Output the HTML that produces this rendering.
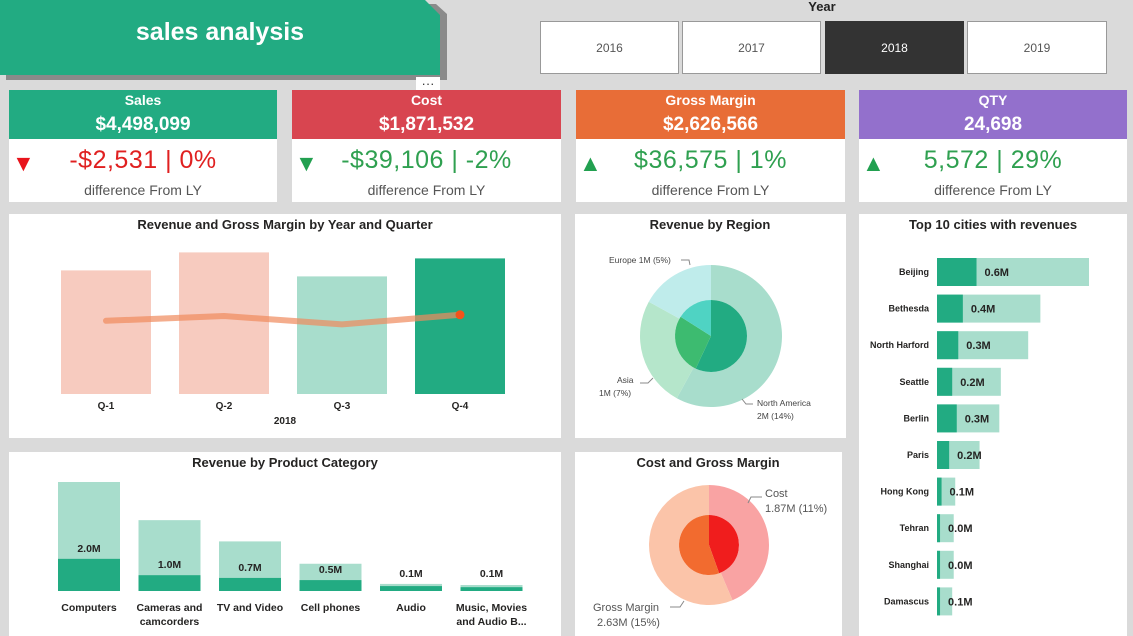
<!DOCTYPE html>
<html><head><meta charset="utf-8">
<style>
html,body{margin:0;padding:0;}
body{width:1133px;height:636px;background:#dadada;overflow:hidden;font-family:"Liberation Sans",sans-serif;position:relative;}
.abs{position:absolute;}
.panel{position:absolute;background:#fff;}
.kpi-head{position:absolute;left:0;right:0;top:0;height:49px;color:#fff;text-align:center;font-weight:bold;}
.kpi-head .t{font-size:14px;margin-top:2px;}
.kpi-head .v{font-size:19px;margin-top:6px;}
.kpi-diff{position:absolute;left:0;right:0;top:56px;text-align:center;font-size:25px;letter-spacing:0.5px;}
.kpi-sub{position:absolute;left:0;right:0;top:92px;text-align:center;font-size:14px;color:#555;}
.tri{position:absolute;left:3px;top:60px;font-size:23px;}
.btn{position:absolute;top:21px;height:53px;background:#fff;border:1px solid #999;box-sizing:border-box;text-align:center;line-height:52px;font-size:12px;color:#555;}
</style></head>
<body>
<div class="abs" style="left:6px;top:4px;width:441px;height:76px;background:#8a8a8a;clip-path:polygon(0 0,430px 0,441px 10px,441px 76px,0 76px);"></div>
<div class="abs" style="left:0;top:0;width:440px;height:75px;background:#22ab82;clip-path:polygon(0 0,425px 0,440px 15px,440px 75px,0 75px);">
 <div style="position:absolute;left:0;width:440px;top:18px;text-align:center;color:#fff;font-weight:bold;font-size:25px;">sales analysis</div>
</div>
<div class="abs" style="left:416px;top:77px;width:24px;height:20px;background:#fff;text-align:center;font-size:13px;line-height:14px;color:#333;">···</div>

<div class="abs" style="left:780px;top:-1px;width:84px;text-align:center;font-size:13px;font-weight:bold;color:#222;">Year</div>
<div class="btn" style="left:540px;width:139px;">2016</div>
<div class="btn" style="left:682px;width:139px;">2017</div>
<div class="btn" style="left:825px;width:139px;background:#333;color:#fff;border-color:#333;">2018</div>
<div class="btn" style="left:967px;width:140px;">2019</div>

<div class="panel" style="left:9px;top:90px;width:268px;height:112px;">
 <div class="kpi-head" style="background:#22ab82;"><div class="t">Sales</div><div class="v">$4,498,099</div></div>
 <div class="tri" style="color:#e8141c;">▼</div>
 <div class="kpi-diff" style="color:#e02020;">-$2,531 | 0%</div>
 <div class="kpi-sub">difference From LY</div>
</div>
<div class="panel" style="left:292px;top:90px;width:269px;height:112px;">
 <div class="kpi-head" style="background:#d84550;"><div class="t">Cost</div><div class="v">$1,871,532</div></div>
 <div class="tri" style="color:#22a050;">▼</div>
 <div class="kpi-diff" style="color:#2fa050;">-$39,106 | -2%</div>
 <div class="kpi-sub">difference From LY</div>
</div>
<div class="panel" style="left:576px;top:90px;width:269px;height:112px;">
 <div class="kpi-head" style="background:#e86d37;"><div class="t">Gross Margin</div><div class="v">$2,626,566</div></div>
 <div class="tri" style="color:#22a050;">▲</div>
 <div class="kpi-diff" style="color:#2fa050;">$36,575 | 1%</div>
 <div class="kpi-sub">difference From LY</div>
</div>
<div class="panel" style="left:859px;top:90px;width:268px;height:112px;">
 <div class="kpi-head" style="background:#9370cc;"><div class="t">QTY</div><div class="v">24,698</div></div>
 <div class="tri" style="color:#22a050;">▲</div>
 <div class="kpi-diff" style="color:#2fa050;">5,572 | 29%</div>
 <div class="kpi-sub">difference From LY</div>
</div>

<div class="panel" style="left:9px;top:214px;width:552px;height:224px;"></div>
<div class="panel" style="left:575px;top:214px;width:271px;height:224px;"></div>
<div class="panel" style="left:859px;top:214px;width:268px;height:422px;"></div>
<div class="panel" style="left:9px;top:452px;width:552px;height:184px;"></div>
<div class="panel" style="left:575px;top:452px;width:267px;height:184px;"></div>

<svg id="chart" class="abs" style="left:0;top:0;" width="1133" height="636" font-family="Liberation Sans, sans-serif">
 <text x="285" y="229" text-anchor="middle" font-size="13" font-weight="bold" fill="#252423">Revenue and Gross Margin by Year and Quarter</text>
 <text x="710" y="229" text-anchor="middle" font-size="13" font-weight="bold" fill="#252423">Revenue by Region</text>
 <text x="993" y="229" text-anchor="middle" font-size="13" font-weight="bold" fill="#252423">Top 10 cities with revenues</text>
 <text x="285" y="467" text-anchor="middle" font-size="13" font-weight="bold" fill="#252423">Revenue by Product Category</text>
 <text x="708" y="467" text-anchor="middle" font-size="13" font-weight="bold" fill="#252423">Cost and Gross Margin</text>
 <text x="285" y="424" text-anchor="middle" font-size="10" font-weight="bold" fill="#252423">2018</text>
 <g id="gq"></g><g id="gr"></g><g id="gc"></g><g id="gp"></g><g id="gg"></g>
 <g font-size="8.5" fill="#444">
  <text x="609" y="263">Europe 1M (5%)</text>
  <polyline points="681,260 689,260 690,265" fill="none" stroke="#888"/>
  <text x="617" y="383">Asia</text>
  <text x="599" y="396">1M (7%)</text>
  <polyline points="640,383 648,383 653,378" fill="none" stroke="#888"/>
  <text x="757" y="406">North America</text>
  <text x="757" y="419">2M (14%)</text>
  <polyline points="742,399 746,404 753,404" fill="none" stroke="#888"/>
 </g>
 <g font-size="11" fill="#555">
  <text x="765" y="497">Cost</text>
  <text x="765" y="512">1.87M (11%)</text>
  <polyline points="748,503 751,497 762,497" fill="none" stroke="#888"/>
  <text x="593" y="611">Gross Margin</text>
  <text x="597" y="626">2.63M (15%)</text>
  <polyline points="670,607 680,607 684,601" fill="none" stroke="#888"/>
 </g>
</svg>
<script>
// Revenue & GM by quarter
const quarters=["Q-1","Q-2","Q-3","Q-4"];
const revenueQ=[1.03,1.18,0.98,1.13];
const marginQ=[0.61,0.65,0.58,0.66];
const quarterColors=["#f7cbbf","#f7cbbf","#a8ddcc","#22ab82"];
// Region donut
const regions=["North America","Asia","Europe"];
const regionOuter=[58,25,17];
const regionInner=[57,27,16];
// Cities
const cities=["Beijing","Bethesda","North Harford","Seattle","Berlin","Paris","Hong Kong","Tehran","Shanghai","Damascus"];
const cityTotal=[1.00,0.68,0.60,0.42,0.41,0.28,0.12,0.11,0.11,0.10];
const cityPart=[0.26,0.17,0.14,0.10,0.13,0.08,0.03,0.02,0.02,0.02];
const cityLabels=["0.6M","0.4M","0.3M","0.2M","0.3M","0.2M","0.1M","0.0M","0.0M","0.1M"];
// Products
const products=[["Computers"],["Cameras and","camcorders"],["TV and Video"],["Cell phones"],["Audio"],["Music, Movies","and Audio B..."]];
const productTotal=[2.0,1.3,0.91,0.5,0.13,0.11];
const productPart=[0.59,0.29,0.24,0.2,0.09,0.07];
const productLabels=["2.0M","1.0M","0.7M","0.5M","0.1M","0.1M"];
// Cost & GM donut
const cgNames=["Cost","Gross Margin"];
const cgOuter=[43.6,56.4];
const cgInner=[44.5,55.5];

const NS="http://www.w3.org/2000/svg";
function mk(parent,tag,attrs){const e=document.createElementNS(NS,tag);for(const k in attrs)e.setAttribute(k,attrs[k]);parent.appendChild(e);return e;}

(function(){
 const g=document.getElementById('gq');
 const base=394, pxPerM=120, x0=61, step=118, bw=90;
 const y=v=>base-v*pxPerM, xc=i=>x0+i*step+bw/2;
 quarters.forEach((q,i)=>{
  const r=mk(g,'rect',{x:x0+i*step,y:y(revenueQ[i]),width:bw,height:revenueQ[i]*pxPerM,fill:quarterColors[i]});
  
  
  const t=mk(g,'text',{x:xc(i),y:409,'text-anchor':'middle','font-size':10,'font-weight':'bold',fill:'#252423'});
  t.textContent=q;
  
  
 });
 const pts=marginQ.map((v,i)=>xc(i)+','+y(v)).join(' ');
 const l=mk(g,'polyline',{points:pts,fill:'none',stroke:'#f08a5d','stroke-width':6,'stroke-opacity':0.7,'stroke-linecap':'round','stroke-linejoin':'round'});
 
 
 const d=mk(g,'circle',{cx:xc(3),cy:y(marginQ[3]),r:4.5,fill:'#f2541b'});
 
 
})();

function arc(cx,cy,r0,r1,a0,a1){
 const p=(r,a)=>[cx+r*Math.sin(a),cy-r*Math.cos(a)];
 const large=(a1-a0)>Math.PI?1:0;
 const [x1,y1]=p(r1,a0),[x2,y2]=p(r1,a1);
 if(r0<=0){return `M${cx},${cy}L${x1},${y1}A${r1},${r1} 0 ${large} 1 ${x2},${y2}Z`;}
 const [x3,y3]=p(r0,a1),[x4,y4]=p(r0,a0);
 return `M${x1},${y1}A${r1},${r1} 0 ${large} 1 ${x2},${y2}L${x3},${y3}A${r0},${r0} 0 ${large} 0 ${x4},${y4}Z`;
}
function donut(g,cx,cy,r0,r1,vals,cols,names,prefix){
 const tot=vals.reduce((a,b)=>a+b,0);let a=0;
 vals.forEach((v,i)=>{const a1=a+v/tot*2*Math.PI;
  const p=mk(g,'path',{d:arc(cx,cy,r0,r1,a,a1),fill:cols[i]});
  
  
  a=a1;});
}
donut(document.getElementById('gr'),711,336,36,71,regionOuter,["#a8ddcc","#b5e6cb","#bfeceb"],regions,'outer-slice');
donut(document.getElementById('gr'),711,336,0,36,regionInner,["#22ab82","#3dbb70","#4fd3c3"],regions,'inner-slice');
donut(document.getElementById('gg'),709,545,30,60,cgOuter,["#f9a3a3","#fbc4a9"],cgNames,'outer-slice');
donut(document.getElementById('gg'),709,545,0,30,cgInner,["#f01d1d","#f26b2f"],cgNames,'inner-slice');

(function(){
 const g=document.getElementById('gc');
 const x0=937,pxPer=152,y0=258,step=36.6,bh=28;
 cities.forEach((c,i)=>{
  const y=y0+i*step;
  const t=mk(g,'text',{x:929,y:y+bh/2+3,'text-anchor':'end','font-size':9,'font-weight':'bold',fill:'#252423'});
  t.textContent=c;
  
  
  const b=mk(g,'rect',{x:x0,y:y,width:cityTotal[i]*pxPer,height:bh,fill:'#a8ddcc'});
  
  
  const p=mk(g,'rect',{x:x0,y:y,width:cityPart[i]*pxPer,height:bh,fill:'#22ab82'});
  
  
  const v=mk(g,'text',{x:x0+cityPart[i]*pxPer+8,y:y+bh/2+4,'font-size':11,'font-weight':'bold',fill:'#252423'});
  v.textContent=cityLabels[i];
  
  
 });
})();

(function(){
 const g=document.getElementById('gp');
 const base=591,pxPer=54.5,x0=58,step=80.5,bw=62;
 products.forEach((lines,i)=>{
  const x=x0+i*step;
  const b=mk(g,'rect',{x:x,y:base-productTotal[i]*pxPer,width:bw,height:productTotal[i]*pxPer,fill:'#a8ddcc'});
  
  
  const p=mk(g,'rect',{x:x,y:base-productPart[i]*pxPer,width:bw,height:productPart[i]*pxPer,fill:'#22ab82'});
  
  
  const ly=Math.min(base-productPart[i]*pxPer-7,base-14);
  const v=mk(g,'text',{x:x+bw/2,y:ly,'text-anchor':'middle','font-size':10.5,'font-weight':'bold',fill:'#252423'});
  v.textContent=productLabels[i];
  
  
  lines.forEach((ln,j)=>{
   const t=mk(g,'text',{x:x+bw/2,y:611+j*14,'text-anchor':'middle','font-size':10.5,'font-weight':'bold',fill:'#252423'});
   t.textContent=ln;
   
   
  });
 });
})();
</script>
</body></html>
